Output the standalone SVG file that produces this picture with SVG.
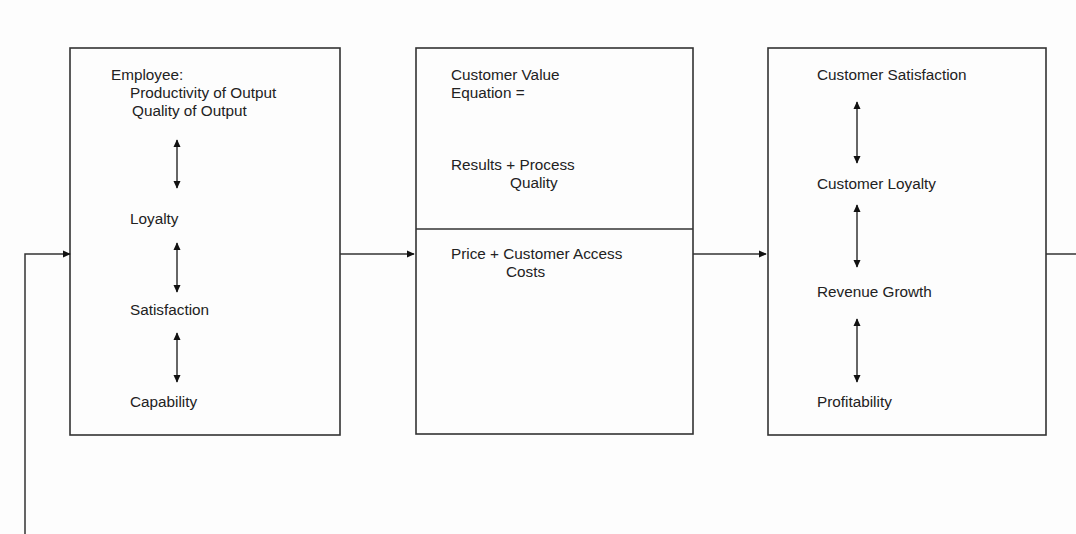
<svg xmlns="http://www.w3.org/2000/svg" width="1076" height="534" viewBox="0 0 1076 534">
<style>
.box{fill:none;stroke:#333;stroke-width:1.6}
.ln{fill:none;stroke:#333;stroke-width:1.5}
.t{font-family:"Liberation Sans",Arial,sans-serif;font-size:15.3px;fill:#222}
</style>
<defs>
<marker id="ah" viewBox="0 0 10 10" refX="9" refY="5" markerWidth="8" markerHeight="8" markerUnits="userSpaceOnUse" orient="auto-start-reverse">
<path d="M0,0.5 L10,5 L0,9.5 z" fill="#111"/>
</marker>
</defs>
<rect width="1076" height="534" fill="#fdfdfd"/>
<g id="node-employee">
<rect class="box" x="70" y="48" width="270" height="387"/>
<text class="t" x="111" y="80">Employee:</text>
<text class="t" x="130" y="98">Productivity of Output</text>
<text class="t" x="132" y="116">Quality of Output</text>
<text class="t" x="130" y="224">Loyalty</text>
<text class="t" x="130" y="315">Satisfaction</text>
<text class="t" x="130" y="407">Capability</text>
<line class="ln" x1="177" y1="140" x2="177" y2="188" marker-start="url(#ah)" marker-end="url(#ah)"/>
<line class="ln" x1="177" y1="243" x2="177" y2="292" marker-start="url(#ah)" marker-end="url(#ah)"/>
<line class="ln" x1="177" y1="333" x2="177" y2="382" marker-start="url(#ah)" marker-end="url(#ah)"/>
</g>
<g id="node-value">
<rect class="box" x="416" y="48" width="277" height="386"/>
<line class="box" x1="416" y1="229" x2="693" y2="229"/>
<text class="t" x="451" y="80">Customer Value</text>
<text class="t" x="451" y="98">Equation =</text>
<text class="t" x="451" y="170">Results + Process</text>
<text class="t" x="510" y="188">Quality</text>
<text class="t" x="451" y="259">Price + Customer Access</text>
<text class="t" x="506" y="277">Costs</text>
</g>
<g id="node-customer">
<rect class="box" x="768" y="48" width="278" height="387"/>
<text class="t" x="817" y="80">Customer Satisfaction</text>
<text class="t" x="817" y="189">Customer Loyalty</text>
<text class="t" x="817" y="297">Revenue Growth</text>
<text class="t" x="817" y="407">Profitability</text>
<line class="ln" x1="857" y1="102" x2="857" y2="163" marker-start="url(#ah)" marker-end="url(#ah)"/>
<line class="ln" x1="857" y1="205" x2="857" y2="267" marker-start="url(#ah)" marker-end="url(#ah)"/>
<line class="ln" x1="857" y1="319" x2="857" y2="382" marker-start="url(#ah)" marker-end="url(#ah)"/>
</g>
<g id="connectors">
<path class="ln" d="M25,534 L25,254 L70,254" marker-end="url(#ah)"/>
<line class="ln" x1="340" y1="254" x2="414" y2="254" marker-end="url(#ah)"/>
<line class="ln" x1="693" y1="254" x2="766" y2="254" marker-end="url(#ah)"/>
<line class="ln" x1="1046" y1="254" x2="1076" y2="254"/>
</g>
</svg>
